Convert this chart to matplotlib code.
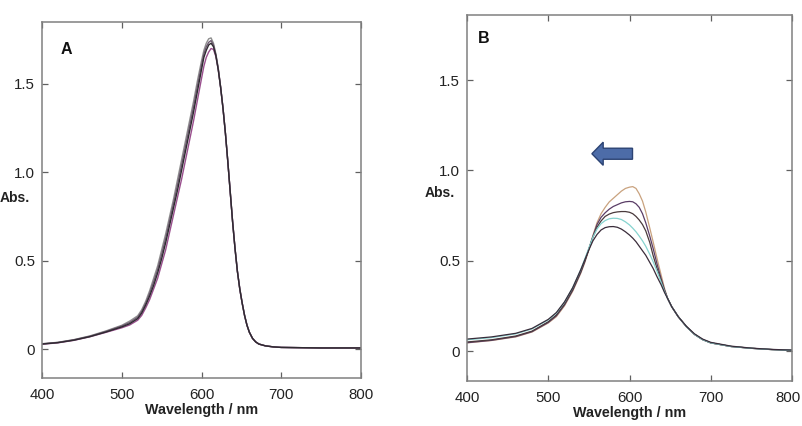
import matplotlib
matplotlib.use("Agg")
import matplotlib.pyplot as plt
import matplotlib.transforms as mtransforms
from matplotlib.patches import FancyArrow
from matplotlib.ticker import FixedLocator, FixedFormatter

plt.rcParams['font.family'] = ['Liberation Sans', 'DejaVu Sans']

# ---------------- Data: panel A ----------------
wl_A = [400, 420, 440, 460, 480, 500, 510, 520, 525, 530,
        535, 540, 545, 550, 555, 560, 565, 570, 575, 580,
        585, 590, 595, 600, 603, 606, 609, 612, 615, 618,
        621, 624, 627, 630, 633, 636, 639, 642, 645, 648,
        651, 654, 657, 660, 664, 668, 672, 680, 690, 700,
        750, 800]

abs_A1 = [0.030, 0.038, 0.053, 0.074, 0.102, 0.134, 0.158, 0.188, 0.222, 0.270,
          0.33, 0.40, 0.47, 0.56, 0.65, 0.75, 0.85, 0.96, 1.07, 1.18,
          1.29, 1.40, 1.52, 1.63, 1.69, 1.73, 1.755, 1.76, 1.73, 1.67,
          1.59, 1.48, 1.36, 1.22, 1.06, 0.89, 0.72, 0.57, 0.44, 0.34,
          0.26, 0.19, 0.135, 0.095, 0.06, 0.04, 0.028, 0.018, 0.012, 0.009,
          0.006, 0.006]
abs_A2 = [0.029, 0.037, 0.052, 0.072, 0.099, 0.130, 0.150, 0.180, 0.212, 0.258,
          0.315, 0.38, 0.45, 0.535, 0.625, 0.725, 0.825, 0.93, 1.04, 1.15,
          1.26, 1.37, 1.49, 1.605, 1.67, 1.71, 1.735, 1.745, 1.72, 1.665,
          1.585, 1.48, 1.36, 1.22, 1.06, 0.89, 0.72, 0.57, 0.44, 0.34,
          0.26, 0.19, 0.135, 0.095, 0.06, 0.04, 0.028, 0.018, 0.012, 0.009,
          0.006, 0.006]
abs_A3 = [0.028, 0.036, 0.050, 0.070, 0.096, 0.125, 0.143, 0.172, 0.203, 0.248,
          0.30, 0.36, 0.43, 0.51, 0.60, 0.70, 0.80, 0.90, 1.01, 1.12,
          1.23, 1.34, 1.46, 1.58, 1.65, 1.69, 1.72, 1.73, 1.71, 1.66,
          1.58, 1.48, 1.36, 1.22, 1.06, 0.89, 0.72, 0.57, 0.44, 0.34,
          0.26, 0.19, 0.135, 0.095, 0.06, 0.04, 0.028, 0.018, 0.012, 0.009,
          0.006, 0.006]
abs_A4 = [0.027, 0.035, 0.049, 0.069, 0.094, 0.120, 0.136, 0.163, 0.190, 0.232,
          0.28, 0.34, 0.40, 0.48, 0.56, 0.66, 0.76, 0.86, 0.96, 1.07,
          1.18, 1.29, 1.41, 1.53, 1.60, 1.65, 1.68, 1.70, 1.695, 1.655,
          1.58, 1.48, 1.36, 1.22, 1.06, 0.89, 0.72, 0.57, 0.44, 0.34,
          0.26, 0.19, 0.135, 0.095, 0.06, 0.04, 0.028, 0.018, 0.012, 0.009,
          0.006, 0.006]
series_A = [abs_A1, abs_A4, abs_A2, abs_A3]
colors_A = ['#8f8f8f', '#9a4f8e', '#6d5a70', '#2e2a30']

# ---------------- Data: panel B ----------------
wl_B = [400, 430, 460, 480, 500, 510, 520, 530, 540, 545,
        550, 555, 560, 565, 570, 575, 580, 585, 590, 595,
        600, 604, 608, 612, 616, 620, 625, 629, 634, 639,
        643, 647, 652, 660, 670, 680, 690, 700, 725, 750,
        775, 800]

abs_B1 = [0.045, 0.058, 0.078, 0.105, 0.155, 0.19, 0.25, 0.33, 0.43, 0.49,
          0.56, 0.64, 0.71, 0.76, 0.795, 0.825, 0.845, 0.865, 0.885, 0.90,
          0.907, 0.91, 0.90, 0.87, 0.83, 0.77, 0.68, 0.606, 0.51, 0.42,
          0.348, 0.29, 0.245, 0.19, 0.135, 0.092, 0.063, 0.045, 0.025, 0.015,
          0.008, 0.004]
abs_B2 = [0.046, 0.059, 0.080, 0.107, 0.158, 0.195, 0.255, 0.335, 0.435, 0.495,
          0.565, 0.635, 0.70, 0.74, 0.765, 0.785, 0.80, 0.81, 0.82, 0.826,
          0.828, 0.826, 0.815, 0.795, 0.76, 0.71, 0.635, 0.569, 0.48, 0.40,
          0.34, 0.29, 0.245, 0.19, 0.135, 0.092, 0.063, 0.045, 0.025, 0.015,
          0.008, 0.004]
abs_B3 = [0.05, 0.062, 0.083, 0.11, 0.162, 0.20, 0.26, 0.34, 0.44, 0.50,
          0.565, 0.63, 0.685, 0.72, 0.745, 0.758, 0.766, 0.77, 0.772, 0.772,
          0.768, 0.76, 0.745, 0.725, 0.70, 0.665, 0.60, 0.53, 0.455, 0.39,
          0.335, 0.29, 0.245, 0.19, 0.135, 0.092, 0.063, 0.045, 0.025, 0.015,
          0.008, 0.004]
abs_B4 = [0.062, 0.074, 0.095, 0.122, 0.172, 0.21, 0.27, 0.35, 0.45, 0.51,
          0.57, 0.63, 0.675, 0.705, 0.722, 0.732, 0.735, 0.734, 0.728, 0.715,
          0.698, 0.68, 0.66, 0.636, 0.61, 0.58, 0.535, 0.495, 0.44, 0.38,
          0.33, 0.29, 0.245, 0.19, 0.135, 0.092, 0.063, 0.045, 0.025, 0.015,
          0.008, 0.004]
abs_B5 = [0.066, 0.078, 0.098, 0.125, 0.175, 0.213, 0.272, 0.35, 0.45, 0.505,
          0.56, 0.61, 0.645, 0.67, 0.683, 0.688, 0.689, 0.685, 0.675, 0.66,
          0.642, 0.625, 0.605, 0.58, 0.555, 0.53, 0.49, 0.458, 0.41, 0.366,
          0.325, 0.29, 0.245, 0.19, 0.137, 0.095, 0.066, 0.048, 0.027, 0.016,
          0.009, 0.005]
series_B = [abs_B1, abs_B2, abs_B3, abs_B4, abs_B5]
colors_B = ['#c9a27e', '#5a3d66', '#4a3a3c', '#86d3cf', '#3a2c3a']

x_ticks = [400, 500, 600, 700, 800]
y_ticks = [0, 0.5, 1.0, 1.5]
y_tick_labels = ['0', '0.5', '1.0', '1.5']

# ---------------- Figure ----------------
W, H = 803, 426
fig = plt.figure(figsize=(W / 100, H / 100), dpi=100)

def px_axes(l, t, r, b):
    return fig.add_axes([l / W, 1 - b / H, (r - l) / W, (b - t) / H])

axA = px_axes(42, 22, 361, 378)
axB = px_axes(467, 15, 792, 381)

for ax in (axA, axB):
    ax.set_xlim(400, 800)
    for s in ax.spines.values():
        s.set_color('#808080')
        s.set_linewidth(1.1)
    ax.xaxis.set_major_locator(FixedLocator(x_ticks))
    ax.yaxis.set_major_locator(FixedLocator(y_ticks))
    ax.yaxis.set_major_formatter(FixedFormatter(y_tick_labels))
    ax.tick_params(direction='in', length=4, width=0.9, color='#606060',
                   top=True, right=True, labelsize=10.8, labelcolor='#222222')
    ax.tick_params(axis='x', pad=7)
    ax.tick_params(axis='y', pad=5)
    ax.set_xlabel('Wavelength / nm', fontsize=10.3, fontweight='bold',
                  color='#222222', labelpad=1)

axA.set_ylim(-0.164, 1.85)
axB.set_ylim(-0.166, 1.86)

for y, c in zip(series_A, colors_A):
    axA.plot(wl_A, y, color=c, lw=1.0)
for y, c in zip(series_B, colors_B):
    axB.plot(wl_B, y, color=c, lw=0.9)

axA.text(0.058, 0.945, 'A', transform=axA.transAxes, fontsize=11.5,
         fontweight='bold', ha='left', va='top', color='#111111')
axB.text(0.032, 0.955, 'B', transform=axB.transAxes, fontsize=11.5,
         fontweight='bold', ha='left', va='top', color='#111111')

fig.text(0 / W, 1 - 198 / H, 'Abs.', fontsize=10, fontweight='bold',
         ha='left', va='center', color='#222222')
fig.text(425 / W, 1 - 193 / H, 'Abs.', fontsize=10, fontweight='bold',
         ha='left', va='center', color='#222222')

arrow = FancyArrow(603.7, 1.092, -50, 0, width=0.061, head_width=0.128,
                   head_length=13.9, length_includes_head=True,
                   facecolor='#4d6ca8', edgecolor='#2c4373', lw=1.0)
axB.add_patch(arrow)

# keep the last tick label of panel B inside the figure
fig.canvas.draw()
last = axB.get_xticklabels()[-1]
last.set_transform(last.get_transform() +
                   mtransforms.ScaledTranslation(-4 / 100, 0, fig.dpi_scale_trans))

fig.savefig('out.png', dpi=100)
